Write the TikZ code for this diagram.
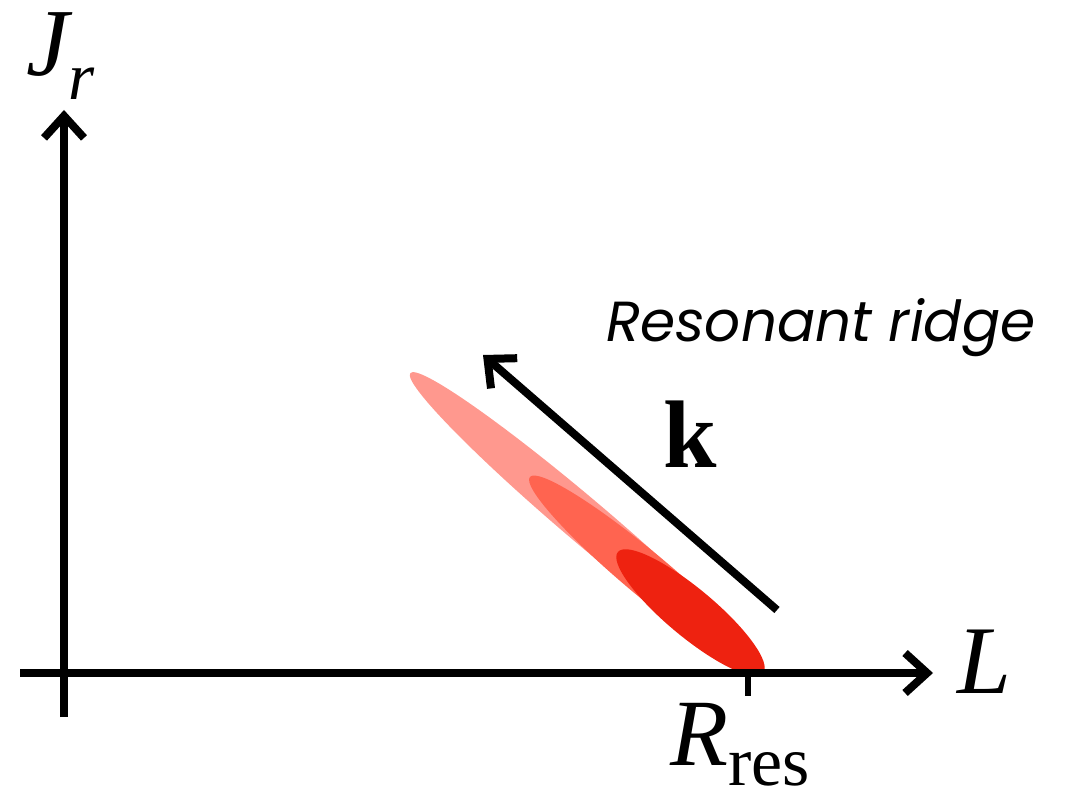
\documentclass[tikz,border=0pt]{standalone}
\usepackage{fontspec}
\setmainfont{Liberation Serif}
\newfontfamily\ridgefont{Poppins}
\usetikzlibrary{arrows.meta}
\definecolor{lightred}{RGB}{255,152,142}
\definecolor{midred}{RGB}{255,100,80}
\definecolor{darkred}{RGB}{238,34,16}
\tikzset{
  axisline/.style={line width=8pt, -{Straight Barb[length=22pt,width=40pt,line width=8pt]}},
  lbl/.style={inner sep=0pt, outer sep=0pt, anchor=base west}
}
\begin{document}
\begin{tikzpicture}[x=1pt,y=-1pt]
\useasboundingbox (0,0) rectangle (1069,794);
% ellipses
\fill[lightred, rotate around={-40.3:(586.5,522.5)}] (586.5,522.5) ellipse [x radius=231, y radius=22];
\fill[midred, rotate around={-39.9:(646.5,574.5)}] (646.5,574.5) ellipse [x radius=152, y radius=22];
\fill[darkred, rotate around={-39.8:(690.5,612.5)}] (690.5,612.5) ellipse [x radius=94.5, y radius=24];
% axes
\coordinate (xstart) at (20,673);
\coordinate (xend) at (933,673);
\coordinate (ystart) at (64,717);
\coordinate (yend) at (64,110);
\draw[axisline] (xstart) -- (xend);
\draw[axisline] (ystart) -- (yend);
% tick
\coordinate (tickA) at (748,673);
\coordinate (tickB) at (748,696);
\draw[line width=6pt] (tickA) -- (tickB);
% k arrow
\coordinate (kstart) at (777,610);
\coordinate (kend) at (483,355);
\draw[axisline] (kstart) -- (kend);
% labels
\node[lbl] (jr) at (26,76) {\fontsize{96}{96}\selectfont\itshape J\lower24pt\hbox{\fontsize{67}{67}\selectfont r}};
\node[lbl] (lx) at (957,693) {\fontsize{97}{97}\selectfont\itshape L};
\node[lbl] (rres) at (670,765) {\fontsize{95}{95}\selectfont\itshape R\/\smash{\lower20pt\hbox{\fontsize{70}{70}\selectfont\upshape res}}};
\node[lbl] (kl) at (663,467) {\fontsize{96}{96}\selectfont\bfseries k};
\node[lbl] (ridge) at (606,342) {\fontsize{56.5}{56.5}\selectfont\ridgefont\itshape Resonant ridge};
\end{tikzpicture}
\end{document}
